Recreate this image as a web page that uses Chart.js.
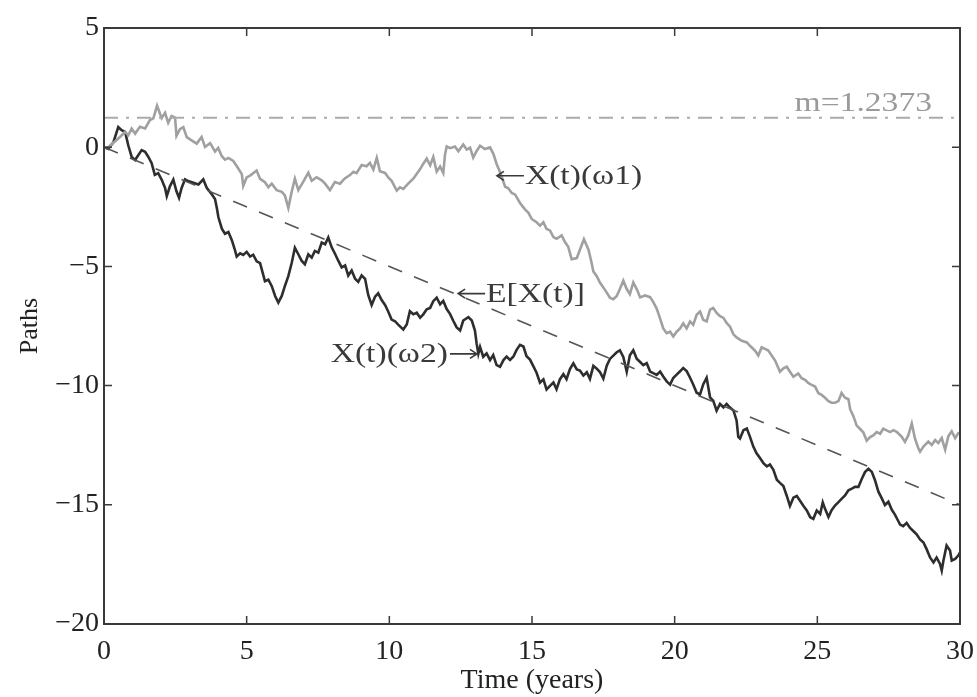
<!DOCTYPE html>
<html>
<head>
<meta charset="utf-8">
<script src="https://cdn.jsdelivr.net/npm/chart.js@4/dist/chart.umd.min.js"></script>
<style>
  html, body { margin: 0; padding: 0; background: #fff; }
  #wrap { width: 977px; height: 697px; }
</style>
</head>
<body>
<div id="wrap"><canvas id="c" width="977" height="697"></canvas></div>
<script>
// Sample path X(t)(ω1): times (years) and values
const timesW1 = [0,0.15,0.56,0.74,0.85,0.97,1.09,1.26,1.44,1.61,1.73,1.86,2.02,2.14,2.25,2.37,2.49,2.54,2.66,2.78,2.9,3.07,3.25,3.42,3.54,3.72,3.89,4.0,4.13,4.24,4.36,4.53,4.65,4.83,4.88,5.0,5.12,5.35,5.47,5.64,5.76,5.88,6.05,6.23,6.34,6.46,6.58,6.69,6.81,6.99,7.16,7.28,7.45,7.63,7.74,7.92,8.09,8.27,8.44,8.62,8.74,8.85,9.03,9.2,9.32,9.44,9.56,9.67,9.85,9.97,10.08,10.26,10.37,10.49,10.66,10.84,11.08,11.19,11.31,11.43,11.54,11.66,11.78,11.89,11.95,12.01,12.13,12.3,12.42,12.59,12.71,12.83,12.94,13.06,13.18,13.35,13.53,13.65,13.76,13.88,14.06,14.17,14.29,14.41,14.58,14.76,14.87,14.99,15.16,15.28,15.4,15.51,15.63,15.75,15.86,16.04,16.15,16.27,16.39,16.57,16.68,16.82,16.98,17.09,17.15,17.27,17.38,17.5,17.62,17.73,17.85,17.97,18.08,18.2,18.32,18.43,18.55,18.67,18.79,18.96,19.14,19.25,19.37,19.49,19.6,19.72,19.84,19.95,20.07,20.19,20.3,20.42,20.54,20.65,20.77,20.89,21.0,21.12,21.24,21.35,21.47,21.59,21.71,21.82,21.94,22.06,22.17,22.35,22.53,22.64,22.82,22.93,23.05,23.17,23.28,23.4,23.52,23.69,23.81,23.93,24.04,24.16,24.33,24.45,24.57,24.69,24.8,24.92,25.04,25.15,25.27,25.39,25.5,25.62,25.74,25.85,25.97,26.09,26.15,26.26,26.38,26.5,26.61,26.73,26.85,26.96,27.08,27.2,27.31,27.43,27.55,27.67,27.78,27.96,28.07,28.19,28.31,28.42,28.54,28.6,28.72,28.89,29.01,29.13,29.24,29.36,29.48,29.59,29.71,29.83,29.94,30];
const pathW1 = [0,0.0,0.43,0.64,0.5,0.78,0.57,0.86,0.79,1.14,1.21,1.74,1.22,1.44,1.02,1.31,1.24,0.48,0.76,0.84,0.42,0.29,0.15,0.43,0.01,0.17,-0.18,-0.03,-0.38,-0.52,-0.45,-0.58,-0.79,-1.13,-1.62,-1.27,-1.19,-0.98,-1.33,-1.47,-1.68,-1.53,-1.8,-1.87,-2.02,-2.55,-1.86,-1.32,-1.8,-1.43,-1.07,-1.41,-1.26,-1.39,-1.52,-1.8,-1.46,-1.53,-1.31,-1.17,-1.03,-1.09,-0.75,-0.8,-0.66,-0.94,-0.45,-1.01,-1.08,-1.28,-1.41,-1.82,-1.68,-1.75,-1.53,-1.32,-0.92,-0.69,-0.48,-0.76,-0.41,-1.02,-0.81,-1.08,-0.32,0.03,-0.04,0.03,-0.17,0.11,-0.1,-0.02,-0.44,-0.16,0.06,-0.08,-0.01,-0.29,-0.71,-1.05,-1.66,-1.72,-1.92,-1.99,-2.34,-2.62,-2.74,-3.01,-3.15,-3.29,-3.15,-3.43,-3.49,-3.77,-3.84,-3.7,-3.97,-4.18,-4.7,-4.65,-4.3,-3.86,-4.3,-4.86,-5.21,-5.41,-5.68,-5.88,-6.1,-6.31,-6.38,-6.24,-5.95,-5.6,-5.95,-6.16,-5.67,-5.95,-6.3,-6.22,-6.29,-6.5,-6.77,-7.19,-7.6,-7.8,-7.74,-7.94,-7.74,-7.6,-7.39,-7.6,-7.31,-7.45,-7.03,-6.89,-7.24,-7.31,-6.81,-6.74,-6.95,-7.09,-7.16,-7.37,-7.53,-7.85,-7.98,-8.12,-8.19,-8.33,-8.54,-8.74,-8.39,-8.46,-8.53,-8.74,-8.95,-9.42,-9.28,-9.21,-9.42,-9.63,-9.49,-9.69,-9.76,-9.9,-9.97,-10.04,-10.32,-10.39,-10.51,-10.65,-10.72,-10.72,-10.65,-10.31,-10.51,-10.57,-10.99,-11.27,-11.68,-11.82,-11.96,-12.31,-12.16,-12.09,-11.95,-12.02,-11.81,-11.88,-11.95,-11.87,-11.94,-12.15,-12.36,-12.08,-11.59,-12.21,-12.63,-12.77,-12.56,-12.35,-12.49,-12.28,-12.41,-12.2,-12.69,-12.13,-11.92,-12.2,-11.99,-12.0];

// Sample path X(t)(ω2): times (years) and values
const timesW2 = [0,0.15,0.33,0.5,0.62,0.74,0.85,0.97,1.09,1.2,1.32,1.44,1.55,1.67,1.78,1.9,2.02,2.14,2.2,2.31,2.43,2.54,2.63,2.72,2.84,2.95,3.13,3.31,3.48,3.6,3.77,3.89,3.95,4.01,4.13,4.24,4.36,4.48,4.59,4.65,4.77,4.88,5.0,5.12,5.23,5.35,5.47,5.64,5.76,5.88,6.0,6.11,6.23,6.34,6.46,6.58,6.69,6.81,6.93,7.04,7.16,7.28,7.39,7.51,7.63,7.75,7.86,7.98,8.1,8.21,8.33,8.45,8.56,8.68,8.8,8.91,9.03,9.15,9.26,9.38,9.5,9.61,9.73,9.85,9.96,10.08,10.2,10.31,10.49,10.61,10.72,10.84,10.96,11.08,11.19,11.31,11.43,11.54,11.66,11.78,11.89,12.01,12.13,12.24,12.36,12.48,12.59,12.77,12.89,13.0,13.06,13.12,13.18,13.29,13.41,13.53,13.64,13.76,13.88,14.0,14.11,14.23,14.35,14.46,14.58,14.7,14.81,14.93,15.05,15.16,15.28,15.4,15.51,15.63,15.75,15.86,15.98,16.1,16.21,16.33,16.45,16.57,16.68,16.8,16.92,17.03,17.15,17.27,17.38,17.5,17.62,17.73,17.85,17.97,18.08,18.2,18.32,18.43,18.55,18.67,18.79,18.9,19.02,19.14,19.25,19.37,19.49,19.6,19.72,19.84,19.95,20.07,20.19,20.3,20.42,20.54,20.65,20.77,20.89,21.0,21.12,21.24,21.35,21.47,21.59,21.71,21.82,21.94,22.06,22.17,22.23,22.29,22.41,22.53,22.64,22.76,22.87,22.99,23.11,23.23,23.34,23.46,23.58,23.69,23.81,23.93,24.04,24.16,24.28,24.4,24.51,24.63,24.75,24.86,24.98,25.1,25.19,25.27,25.39,25.5,25.62,25.74,25.85,25.97,26.09,26.21,26.32,26.44,26.56,26.67,26.79,26.91,27.02,27.14,27.26,27.37,27.49,27.61,27.72,27.84,27.9,28.01,28.13,28.25,28.37,28.48,28.6,28.72,28.83,28.95,29.07,29.18,29.3,29.36,29.42,29.53,29.65,29.71,29.83,29.94,30];
const pathW2 = [0,-0.07,0.21,0.84,0.71,0.64,0.08,-0.41,-0.54,-0.34,-0.12,-0.19,-0.4,-0.67,-1.16,-1.09,-1.36,-1.71,-2.05,-1.64,-1.36,-1.85,-2.12,-1.71,-1.35,-1.42,-1.49,-1.56,-1.35,-1.7,-1.96,-2.17,-2.52,-2.94,-3.42,-3.63,-3.56,-3.9,-4.32,-4.59,-4.45,-4.52,-4.39,-4.59,-4.51,-4.79,-4.86,-5.62,-5.56,-5.83,-6.25,-6.52,-6.24,-5.82,-5.41,-4.85,-4.22,-4.49,-4.77,-4.91,-4.49,-4.63,-4.35,-4.42,-4.0,-4.07,-3.79,-4.2,-4.48,-4.76,-5.04,-4.96,-5.38,-5.17,-5.52,-5.65,-5.38,-5.52,-6.2,-6.62,-6.27,-6.13,-6.41,-6.62,-6.89,-7.23,-7.3,-7.44,-7.65,-7.44,-6.88,-7.01,-6.94,-7.15,-7.01,-6.8,-6.74,-6.46,-6.31,-6.59,-6.45,-6.79,-7.0,-7.28,-7.56,-7.69,-7.27,-7.13,-7.27,-7.69,-8.24,-8.66,-8.38,-8.79,-8.65,-8.93,-8.72,-9.14,-9.21,-8.93,-8.78,-8.92,-8.78,-8.5,-8.29,-8.36,-8.77,-8.91,-9.19,-9.46,-9.88,-9.74,-10.16,-10.01,-9.87,-10.15,-9.73,-9.52,-9.73,-9.31,-9.07,-9.32,-9.37,-9.58,-9.44,-9.72,-9.17,-9.29,-9.43,-9.71,-9.16,-8.88,-8.74,-8.6,-8.52,-8.8,-9.42,-8.73,-8.52,-8.87,-9.01,-9.14,-9.06,-9.41,-9.48,-9.55,-9.41,-9.62,-9.82,-9.96,-9.68,-9.54,-9.4,-9.26,-9.39,-9.67,-9.95,-10.3,-10.37,-9.95,-9.67,-10.49,-10.63,-11.05,-10.77,-10.91,-10.77,-10.92,-11.04,-11.46,-12.15,-12.22,-11.87,-11.8,-12.15,-12.57,-12.84,-13.04,-13.25,-13.39,-13.31,-13.53,-13.95,-14.08,-14.21,-14.63,-15.05,-14.7,-14.63,-14.84,-15.04,-15.24,-15.52,-15.59,-15.24,-15.38,-14.9,-15.17,-15.51,-15.23,-15.03,-14.89,-14.75,-14.61,-14.39,-14.32,-14.25,-14.25,-13.91,-13.63,-13.49,-13.62,-13.97,-14.45,-14.73,-15.01,-14.87,-15.21,-15.41,-15.69,-15.83,-15.9,-15.76,-15.97,-16.11,-16.24,-16.45,-16.58,-16.86,-17.21,-17.42,-17.21,-17.48,-17.76,-17.34,-16.71,-16.92,-17.34,-17.27,-17.13,-17.0];

// Expected value E[X(t)] = -0.5 t, and the level m
const meanTimes = [0, 30];
const meanValues = [0, -15];
const levelM = 1.2373;
const levelTimes = [0, 30];

// Curve labels: text, arrow side, and the data point the arrow tip (or text start) sits at
const labelTexts = ['X(t)(\u03c91)', 'E[X(t)]', 'X(t)(\u03c92)', 'm=' + levelM];
const labelArrows = ['left', 'left', 'right', 'none'];
const labelTimes = [13.77, 12.41, 13.07, 24.2];
const labelValues = [-1.2, -6.14, -8.67, 1.86];

const toXY = (ts, vs) => ts.map((t, i) => ({ x: t, y: vs[i] }));

const serif = '"Liberation Serif", "Times New Roman", serif';
const fmtTick = v => (v < 0 ? '\u2212' + Math.abs(v) : String(v));

// Arrow of given length from tail to tip, drawn along the horizontal
function drawArrow(ctx, tipX, y, dir, len) {
  const tail = tipX - dir * len;
  ctx.beginPath();
  ctx.moveTo(tail, y); ctx.lineTo(tipX, y);
  ctx.moveTo(tipX - dir * 7, y - 4.5); ctx.lineTo(tipX, y); ctx.lineTo(tipX - dir * 7, y + 4.5);
  ctx.stroke();
}

// Box frame with inward tick marks, plus the curve labels
const framePlugin = {
  id: 'frame',
  afterDatasetsDraw(chart) {
    const { ctx, chartArea: a, scales: { x, y } } = chart;
    ctx.save();
    ctx.strokeStyle = '#3a3a3a';
    ctx.lineWidth = 2;
    ctx.strokeRect(a.left, a.top, a.right - a.left, a.bottom - a.top);
    const tl = 8;
    ctx.lineWidth = 1.5;
    ctx.beginPath();
    x.ticks.forEach(t => {
      const px = x.getPixelForValue(t.value);
      ctx.moveTo(px, a.bottom); ctx.lineTo(px, a.bottom - tl);
      ctx.moveTo(px, a.top); ctx.lineTo(px, a.top + tl);
    });
    y.ticks.forEach(t => {
      const py = y.getPixelForValue(t.value);
      ctx.moveTo(a.left, py); ctx.lineTo(a.left + tl, py);
      ctx.moveTo(a.right, py); ctx.lineTo(a.right - tl, py);
    });
    ctx.stroke();

    // labels: Times-like text, a little wider than tall
    const sx = 1.2, arrowLen = 27;
    ctx.font = '28px ' + serif;
    ctx.textBaseline = 'middle';
    labelTexts.forEach((txt, i) => {
      const px = x.getPixelForValue(labelTimes[i]);
      const py = y.getPixelForValue(labelValues[i]);
      const col = i === 3 ? '#9a9a9a' : '#3a3a3a';
      ctx.fillStyle = col; ctx.strokeStyle = col; ctx.lineWidth = 1.6;
      const w = ctx.measureText(txt).width * sx;
      let textLeft = px;
      if (labelArrows[i] === 'left') {
        drawArrow(ctx, px, py, -1, arrowLen);
        textLeft = px + arrowLen + 1;
      } else if (labelArrows[i] === 'right') {
        drawArrow(ctx, px, py, 1, arrowLen);
        textLeft = px - arrowLen - 2 - w;
      }
      ctx.save();
      ctx.translate(textLeft, py + 1);
      ctx.scale(sx, 1);
      ctx.textAlign = 'left';
      ctx.fillText(txt, 0, 0);
      ctx.restore();
    });
    ctx.restore();
  }
};

new Chart(document.getElementById('c'), {
  type: 'scatter',
  data: {
    datasets: [
      {
        label: 'm',
        data: toXY(levelTimes, levelTimes.map(() => levelM)),
        showLine: true, borderColor: '#ababab', borderWidth: 2,
        borderDash: [14, 8, 3, 8], pointRadius: 0
      },
      {
        label: 'E[X(t)]',
        data: toXY(meanTimes, meanValues),
        showLine: true, borderColor: '#555555', borderWidth: 1.6,
        borderDash: [15, 13], pointRadius: 0
      },
      {
        label: 'X(t)(ω1)',
        data: toXY(timesW1, pathW1),
        showLine: true, borderColor: '#a0a0a0', borderWidth: 2.6,
        pointRadius: 0, tension: 0
      },
      {
        label: 'X(t)(ω2)',
        data: toXY(timesW2, pathW2),
        showLine: true, borderColor: '#2e2e2e', borderWidth: 2.6,
        pointRadius: 0, tension: 0
      }
    ]
  },
  options: {
    responsive: false,
    animation: false,
    devicePixelRatio: 1,
    layout: { padding: { top: 28, right: 17, left: 0, bottom: 0 } },
    plugins: { legend: { display: false }, tooltip: { enabled: false } },
    scales: {
      x: {
        type: 'linear', min: 0, max: 30,
        afterFit: s => { s.height = 73; s.paddingLeft = 0; s.paddingRight = 0; },
        grid: { display: false, drawTicks: false },
        border: { display: false },
        ticks: { stepSize: 5, padding: 11, color: '#222', font: { family: serif, size: 28 }, maxRotation: 0, callback: fmtTick },
        title: { display: true, text: 'Time (years)', color: '#222', font: { family: serif, size: 28 }, padding: { top: 0, bottom: 0 } }
      },
      y: {
        type: 'linear', min: -20, max: 5,
        afterFit: s => { s.width = 104; s.paddingTop = 0; s.paddingBottom = 0; },
        grid: { display: false, drawTicks: false },
        border: { display: false },
        ticks: { stepSize: 5, padding: 5, color: '#222', font: { family: serif, size: 28 }, callback: fmtTick },
        title: { display: true, text: 'Paths', color: '#222', font: { family: serif, size: 26 }, padding: { top: 15, bottom: 0 } }
      }
    }
  },
  plugins: [framePlugin]
});
</script>
</body>
</html>
